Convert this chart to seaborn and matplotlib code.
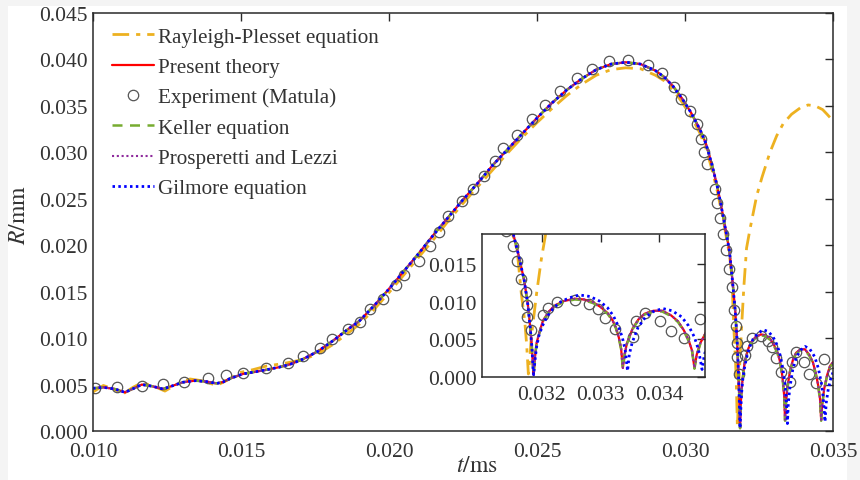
import matplotlib
matplotlib.use("Agg")
import matplotlib.pyplot as plt
from matplotlib.patches import Rectangle
import seaborn as sns

# ---- time axis (ms) shared by the compressible models up to the first collapse ----
t_model = [
    0.0100, 0.01035, 0.01074, 0.01108, 0.0114, 0.01165, 0.0120, 0.01236, 0.0127, 0.01304,
    0.01345, 0.01384, 0.01418, 0.0144, 0.01463, 0.01507, 0.0155, 0.01587, 0.0163, 0.01666,
    0.0171, 0.0176, 0.0181, 0.0186, 0.0190, 0.0195, 0.0200, 0.0205, 0.0210, 0.0215,
    0.0220, 0.0225, 0.0230, 0.0235, 0.0240, 0.0245, 0.0250, 0.0255, 0.0260, 0.0265,
    0.0270, 0.0275, 0.0280, 0.0285, 0.0290, 0.0293, 0.0296, 0.0299, 0.0302, 0.0305,
    0.0307, 0.0309, 0.0311, 0.0312, 0.0313, 0.0314, 0.0315, 0.0316, 0.0317, 0.03176,
    0.0318, 0.03183, 0.03185, 0.03186,
]
R_model = [
    0.0046, 0.0047, 0.00452, 0.00416, 0.00462, 0.00500, 0.00482, 0.00452, 0.00488, 0.00525,
    0.00542, 0.00532, 0.00512, 0.00528, 0.00565, 0.00615, 0.00638, 0.00660, 0.00688, 0.00718,
    0.00775, 0.00858, 0.00970, 0.01092, 0.01185, 0.0135, 0.0153, 0.0172, 0.0191, 0.0211,
    0.0230, 0.0249, 0.0267, 0.0286, 0.0303, 0.0320, 0.0337, 0.0353, 0.0367, 0.0379,
    0.0389, 0.0395, 0.0397, 0.0395, 0.0388, 0.0381, 0.0371, 0.0358, 0.0343, 0.0325,
    0.0310, 0.0288, 0.0262, 0.0246, 0.0229, 0.0212, 0.0194, 0.0163, 0.0128, 0.0097,
    0.0067, 0.0040, 0.0012, 0.0003,
]

# ---- rebounds after the first collapse ----
t_rebound = [
    0.03188, 0.03191, 0.03196, 0.03202, 0.03212, 0.03222, 0.03238, 0.03256, 0.03272, 0.03288,
    0.03300, 0.03312, 0.03320, 0.03326, 0.03331, 0.03335, 0.03338, 0.03341, 0.03345, 0.03355,
    0.03365, 0.03375, 0.03390, 0.03405, 0.03420, 0.03432, 0.03442, 0.03450, 0.03456, 0.03460,
    0.03464, 0.03470, 0.03480, 0.03490, 0.03500,
]
R_present_rebound = [
    0.0025, 0.0045, 0.0060, 0.0075, 0.0087, 0.0095, 0.0101, 0.0104, 0.0103, 0.0099,
    0.0093, 0.0085, 0.0076, 0.0066, 0.0053, 0.0038, 0.0012, 0.0030, 0.0045, 0.0065,
    0.0077, 0.0084, 0.0088, 0.0088, 0.0082, 0.0074, 0.0062, 0.0049, 0.0035, 0.0012,
    0.0030, 0.0045, 0.0060, 0.0070, 0.0074,
]
R_keller_rebound = [
    0.0024, 0.0044, 0.0059, 0.0074, 0.0086, 0.0094, 0.0100, 0.0103, 0.0102, 0.0098,
    0.0092, 0.0084, 0.0075, 0.0065, 0.0052, 0.0037, 0.0011, 0.0029, 0.0044, 0.0064,
    0.0076, 0.0083, 0.0087, 0.0087, 0.0081, 0.0073, 0.0061, 0.0048, 0.0034, 0.0011,
    0.0029, 0.0044, 0.0059, 0.0069, 0.0073,
]
R_prosperetti_rebound = [
    0.0025, 0.0045, 0.0060, 0.0075, 0.0087, 0.0095, 0.0101, 0.0104, 0.0103, 0.0099,
    0.0093, 0.0085, 0.0076, 0.0066, 0.0053, 0.0038, 0.0012, 0.0030, 0.0045, 0.0065,
    0.0077, 0.0084, 0.0088, 0.0088, 0.0082, 0.0074, 0.0062, 0.0049, 0.0035, 0.0012,
    0.0030, 0.0045, 0.0060, 0.0070, 0.0074,
]
t_gilmore_rebound = [
    0.03188, 0.03191, 0.03195, 0.03201, 0.03208, 0.03218, 0.03230, 0.03246, 0.03264, 0.03282,
    0.03298, 0.03312, 0.03322, 0.03330, 0.03337, 0.03342, 0.03346, 0.03349, 0.03354, 0.03364,
    0.03376, 0.03390, 0.03406, 0.03422, 0.03438, 0.03450, 0.03460, 0.03467, 0.03473, 0.03477,
    0.03484, 0.03492, 0.03500,
]
R_gilmore_rebound = [
    0.0020, 0.0040, 0.0055, 0.0068, 0.0079, 0.0090, 0.0099, 0.0105, 0.0109, 0.0107,
    0.0101, 0.0092, 0.0081, 0.0068, 0.0053, 0.0036, 0.0008, 0.0030, 0.0046, 0.0066,
    0.0079, 0.0087, 0.0091, 0.0088, 0.0080, 0.0068, 0.0053, 0.0036, 0.0010, 0.0030,
    0.0045, 0.0056, 0.0063,
]

# ---- Rayleigh-Plesset (incompressible) ----
t_rp = [
    0.0100, 0.01035, 0.0107, 0.01102, 0.01135, 0.01165, 0.0120, 0.01243, 0.0128, 0.01328,
    0.0137, 0.01418, 0.01455, 0.01497, 0.0154, 0.01587, 0.0163, 0.01666, 0.0171, 0.0176,
    0.0181, 0.0186, 0.0190, 0.0195, 0.0200, 0.0205, 0.0210, 0.0215, 0.0220, 0.0225,
    0.0230, 0.0235, 0.0240, 0.0245, 0.0250, 0.0255, 0.0260, 0.0265, 0.0270, 0.0275,
    0.0280, 0.0285, 0.0290, 0.0293, 0.0296, 0.0299, 0.0302, 0.0305, 0.0307, 0.0309,
    0.0311, 0.0313, 0.0315, 0.03158, 0.03165, 0.03171, 0.03174, 0.03177, 0.0318, 0.03182,
    0.03187, 0.03191, 0.03199, 0.03208, 0.0322, 0.03242, 0.0326, 0.03287, 0.0331, 0.03332,
    0.0336, 0.0339, 0.03416, 0.0344, 0.03465, 0.0348, 0.0350,
]
R_rp = [
    0.0042, 0.0049, 0.0045, 0.0040, 0.0047, 0.0052, 0.0049, 0.0043, 0.0050, 0.0056,
    0.0054, 0.0049, 0.0055, 0.0063, 0.0066, 0.0070, 0.0072, 0.0074, 0.0077, 0.0083,
    0.0093, 0.0105, 0.0115, 0.0131, 0.0149, 0.0168, 0.0187, 0.0206, 0.0226, 0.0245,
    0.0263, 0.0281, 0.0299, 0.0316, 0.0332, 0.0347, 0.0361, 0.0373, 0.0383, 0.0389,
    0.0391, 0.0390, 0.0383, 0.0377, 0.0367, 0.0354, 0.0339, 0.0321, 0.0305, 0.0283,
    0.0257, 0.0226, 0.0190, 0.0168, 0.0111, 0.0073, 0.0044, 0.0004, 0.0030, 0.0053,
    0.0085, 0.0111, 0.0156, 0.0197, 0.0218, 0.0253, 0.0273, 0.0300, 0.0318, 0.0331,
    0.0341, 0.0348, 0.0351, 0.0350, 0.0346, 0.0341, 0.0334,
]

# ---- experiment (Matula) ----
t_exp = [
    0.01007, 0.01080, 0.01165, 0.01235, 0.01306, 0.01388, 0.01450, 0.01506, 0.01586, 0.01660,
    0.01708, 0.01768, 0.01809, 0.01863, 0.01901, 0.01936, 0.01981, 0.02025, 0.02050, 0.02102,
    0.02140, 0.02170, 0.02200, 0.02246, 0.02285, 0.02320, 0.02358, 0.02386, 0.02431, 0.02482,
    0.02527, 0.02578, 0.02634, 0.02685, 0.02744, 0.02806, 0.02876, 0.02921, 0.02963, 0.02986,
    0.03017, 0.03040, 0.03053, 0.03064, 0.03073, 0.03101, 0.03109, 0.03118, 0.03129, 0.03139,
    0.03150, 0.03158, 0.03165, 0.03173, 0.03174, 0.03174, 0.03182, 0.03202, 0.03211, 0.03225,
    0.03256, 0.03281, 0.03295, 0.03307, 0.03324, 0.03355, 0.03360, 0.03375, 0.03402, 0.03420,
    0.03442, 0.03470, 0.03499,
]
R_exp = [
    0.00459, 0.00470, 0.00487, 0.00505, 0.00530, 0.00572, 0.00602, 0.00624, 0.00674, 0.00737,
    0.00810, 0.00889, 0.00986, 0.01094, 0.01175, 0.01315, 0.01419, 0.01567, 0.01683, 0.01831,
    0.01993, 0.02137, 0.02315, 0.02476, 0.02602, 0.02745, 0.02906, 0.03050, 0.03183, 0.03355,
    0.03505, 0.03659, 0.03796, 0.03900, 0.03982, 0.03992, 0.03939, 0.03850, 0.03706, 0.03577,
    0.03444, 0.03301, 0.03147, 0.03003, 0.02870, 0.02610, 0.02459, 0.02298, 0.02118, 0.01946,
    0.01742, 0.01545, 0.01307, 0.01129, 0.00952, 0.00796, 0.00619, 0.00819, 0.00920, 0.00996,
    0.01019, 0.00973, 0.00907, 0.00787, 0.00640, 0.00529, 0.00743, 0.00849, 0.00743, 0.00609,
    0.00512, 0.00773, 0.00624,
]

main_xticks = [0.010, 0.015, 0.020, 0.025, 0.030, 0.035]
main_yticks = [0.000, 0.005, 0.010, 0.015, 0.020, 0.025, 0.030, 0.035, 0.040, 0.045]
inset_xticks = [0.032, 0.033, 0.034]
inset_yticks = [0.000, 0.005, 0.010, 0.015]

# full model series
t_present = t_model + t_rebound
R_present = R_model + R_present_rebound
R_keller = R_model + R_keller_rebound
R_prosperetti = R_model + R_prosperetti_rebound
t_gilmore = t_model + t_gilmore_rebound
R_gilmore = R_model + R_gilmore_rebound

sns.set_style("white")
plt.rcParams["font.family"] = ["Liberation Serif", "DejaVu Serif"]
plt.rcParams["mathtext.fontset"] = "stix"

INK = "#2a2a2a"
C_RP = "#EDB120"
C_PRES = "#FF0000"
C_KEL = "#77AC30"
C_PL = "#8E2A9C"
C_GIL = "#0000FF"

fig = plt.figure(figsize=(8.6, 4.81), dpi=100)
fig.patch.set_facecolor("#f4f4f4")
fig.patches.append(Rectangle((8 / 860, 0), 839 / 860, 474 / 481,
                             transform=fig.transFigure, facecolor="white",
                             edgecolor="none", zorder=-10))

ax = fig.add_axes([93 / 860, 49 / 481, 740 / 860, 418 / 481])
axin = fig.add_axes([482 / 860, 103 / 481, 223 / 860, 143 / 481])


def draw_series(a, with_labels):
    lab = (lambda s: s) if with_labels else (lambda s: None)
    sns.lineplot(x=t_rp, y=R_rp, ax=a, color=C_RP, lw=2.0, sort=False,
                 estimator=None, label=lab("Rayleigh-Plesset equation"))
    a.lines[-1].set_dashes([6, 2.5, 1.5, 2.5])
    sns.lineplot(x=t_present, y=R_present, ax=a, color=C_PRES, lw=1.6, sort=False,
                 estimator=None, label=lab("Present theory"))
    sns.lineplot(x=t_exp, y=R_exp, ax=a, color="#555555", sort=False, estimator=None,
                 linestyle="none", marker="o", markersize=7.5, markerfacecolor="none",
                 markeredgecolor="#555555", markeredgewidth=0.9,
                 label=lab("Experiment (Matula)"))
    sns.lineplot(x=t_present, y=R_keller, ax=a, color=C_KEL, lw=1.8, sort=False,
                 estimator=None, label=lab("Keller equation"))
    a.lines[-1].set_dashes([4, 3])
    sns.lineplot(x=t_present, y=R_prosperetti, ax=a, color=C_PL, lw=1.5, sort=False,
                 estimator=None, label=lab("Prosperetti and Lezzi"))
    a.lines[-1].set_dashes([1, 1.3])
    sns.lineplot(x=t_gilmore, y=R_gilmore, ax=a, color=C_GIL, lw=2.0, sort=False,
                 estimator=None, label=lab("Gilmore equation"))
    a.lines[-1].set_dashes([0.9, 1.2])


def style_axes(a, xt, yt, xlim, ylim):
    a.set_xlim(*xlim)
    a.set_ylim(*ylim)
    a.set_xticks(xt)
    a.set_yticks(yt)
    a.set_xticklabels([f"{v:.3f}" for v in xt])
    a.set_yticklabels([f"{v:.3f}" for v in yt])
    a.tick_params(direction="in", length=6, width=1.0, top=True, right=True,
                  colors=INK, labelsize=15.5, labelcolor="#333333")
    a.tick_params(axis="y", pad=4)
    a.tick_params(axis="x", pad=8)
    for sp in a.spines.values():
        sp.set_color(INK)
        sp.set_linewidth(1.1)
        sp.set_visible(True)
    a.set_facecolor("white")


draw_series(ax, True)
style_axes(ax, main_xticks, main_yticks, (0.010, 0.035), (0.0, 0.045))
ax.set_xlabel(r"$t/\mathrm{ms}$", fontsize=17, color="#333333")
ax.set_ylabel(r"$R/\mathrm{mm}$", fontsize=17, color="#333333")
ax.xaxis.set_label_coords(0.519, -0.058)
ax.yaxis.set_label_coords(-0.085, 0.52)

leg = ax.legend(loc="upper left", bbox_to_anchor=(0.0, 1.012), frameon=False,
                fontsize=15.2, handlelength=2.0, handletextpad=0.2,
                labelspacing=0.5, borderaxespad=0.5)
for txt in leg.get_texts():
    txt.set_color("#333333")

draw_series(axin, False)
style_axes(axin, inset_xticks, inset_yticks, (0.03098, 0.03478), (0.0, 0.019))
axin.tick_params(axis="x", pad=6)
axin.set_xlabel("")
axin.set_ylabel("")
if axin.get_legend() is not None:
    axin.get_legend().remove()

fig.savefig("out.png", dpi=100, facecolor=fig.get_facecolor())
